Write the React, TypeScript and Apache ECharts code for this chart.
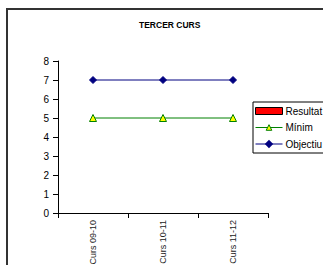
import React, { useEffect, useRef } from "react";
import * as echarts from "echarts";

const categories = ["Curs 09-10", "Curs 10-11", "Curs 11-12"];
const resultat: (number | null)[] = [null, null, null];
const minim = [5, 5, 5];
const objectiu = [7, 7, 7];
const yTicks = { min: 0, max: 8, interval: 1 };

export default function App() {
  const ref = useRef<HTMLDivElement>(null);
  useEffect(() => {
    if (!ref.current) return;
    const chart = echarts.init(ref.current, null, { renderer: "svg" });
    const font = "Liberation Sans, Arial, sans-serif";
    chart.setOption({
      animation: false,
      backgroundColor: "#fff",
      title: {
        text: "TERCER CURS",
        left: 139,
        top: 20,
        padding: 0,
        textStyle: { fontSize: 8.5, fontWeight: "bold", color: "#000", fontFamily: font },
      },
      graphic: [
        {
          type: "rect",
          shape: { x: 7, y: 9, width: 500, height: 500 },
          style: { fill: "none", stroke: "#333", lineWidth: 2 },
          silent: true,
        },
      ],
      legend: {
        orient: "vertical",
        left: 253,
        top: 102,
        padding: [4, 40, 4, 2],
        itemGap: 6.5,
        itemWidth: 27,
        itemHeight: 7,
        borderColor: "#000",
        borderWidth: 1,
        borderRadius: 0,
        textStyle: { fontSize: 10, color: "#000", fontFamily: font, padding: [0, 0, 0, -2] },
        data: [
          { name: "Resultat", icon: "rect", itemStyle: { color: "#ff0000", borderColor: "#000", borderWidth: 1 } },
          {
            name: "Mínim",
            lineStyle: { width: 1, color: "#008000" },
            itemStyle: { color: "#ffff00", borderColor: "#008000", borderWidth: 1 },
          },
          { name: "Objectiu", lineStyle: { width: 1, color: "#000080" } },
        ],
      },
      grid: { left: 58, right: 55, top: 61, bottom: 52, containLabel: false, outerBoundsMode: "none" },
      xAxis: {
        type: "category",
        data: categories,
        boundaryGap: true,
        axisLine: { lineStyle: { color: "#000", width: 1 } },
        axisTick: { show: true, length: 5, lineStyle: { color: "#000" } },
        axisLabel: { rotate: 90, fontSize: 9, color: "#222", fontFamily: font, margin: 7 },
      },
      yAxis: {
        type: "value",
        min: yTicks.min,
        max: yTicks.max,
        interval: yTicks.interval,
        splitLine: { show: false },
        axisLine: { show: true, lineStyle: { color: "#000", width: 1 } },
        axisTick: { show: true, length: 5, lineStyle: { color: "#000" } },
        axisLabel: { fontSize: 10, color: "#000", fontFamily: font, margin: 9 },
      },
      series: [
        {
          name: "Resultat",
          type: "bar",
          data: resultat,
          itemStyle: { color: "#ff0000", borderColor: "#000", borderWidth: 1 },
        },
        {
          name: "Mínim",
          type: "line",
          data: minim,
          symbol: "triangle",
          symbolSize: 7,
          lineStyle: { color: "#008000", width: 1 },
          itemStyle: { color: "#ffff00", borderColor: "#008000", borderWidth: 1 },
        },
        {
          name: "Objectiu",
          type: "line",
          data: objectiu,
          symbol: "diamond",
          symbolSize: 7,
          lineStyle: { color: "#000080", width: 1 },
          itemStyle: { color: "#000080", borderColor: "#000080", borderWidth: 1 },
        },
      ],
    });
    return () => chart.dispose();
  }, []);
  return (
    <div
      ref={ref}
      style={{ position: "fixed", left: 0, top: 0, width: 323, height: 265, overflow: "hidden" }}
    />
  );
}
